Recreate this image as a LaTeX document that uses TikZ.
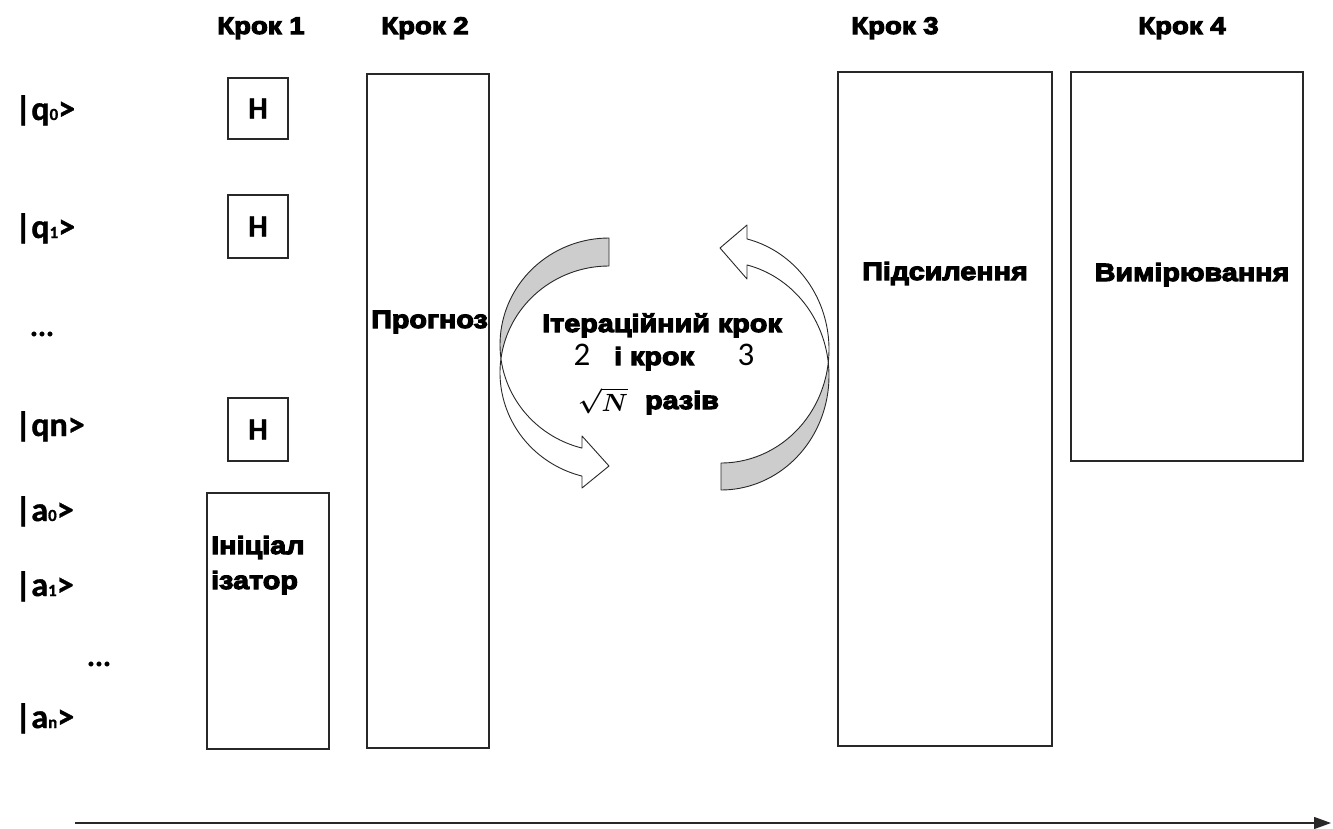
\documentclass[tikz,border=0pt]{standalone}
\usepackage{fontspec}
\usepackage{amsmath}
\usetikzlibrary{arrows.meta}
\newfontfamily\heavy[BoldFeatures={FakeBold=4.5},FakeStretch=1.15]{Liberation Sans}
\newfontfamily\cali[BoldFeatures={FakeBold=1}]{Carlito}
\definecolor{band}{RGB}{205,205,205}
\definecolor{edge}{RGB}{40,40,40}

\tikzset{
  box/.style 2 args={draw=edge, line width=1.3pt, minimum width=#1, minimum height=#2, inner sep=0pt},
  steplabel/.style={anchor=base, inner sep=0pt, font=\heavy\bfseries\fontsize{24}{24}\selectfont},
  boxtext/.style={inner sep=0pt, font=\heavy\bfseries\fontsize{25}{25}\selectfont},
  ket/.style={anchor=base west, inner sep=0pt, font=\cali\bfseries\fontsize{34}{34}\selectfont},
  gate/.style={inner sep=0pt, font=\cali\bfseries\fontsize{31}{31}\selectfont},
  dots/.style={inner sep=0pt, font=\cali\bfseries\fontsize{30}{30}\selectfont},
  ribbon/.style={draw=edge, line width=0.9pt, line join=round},
  digit/.style={anchor=base, inner sep=0pt, font=\cali\fontsize{33}{33}\selectfont},
}
\newcommand{\sub}[1]{{\fontsize{17}{17}\selectfont #1}}

\begin{document}
\begin{tikzpicture}[x=1pt, y=-1pt]
\useasboundingbox (0,0) rectangle (1333,828);

% step headings
\node[steplabel] (s1) at (261,34) {Крок 1};
\node[steplabel] (s2) at (425,34) {Крок 2};
\node[steplabel] (s3) at (895,34) {Крок 3};
\node[steplabel] (s4) at (1182,34) {Крок 4};

% register labels
\node[ket] (q0) at (15,120) {|q\sub{0}>};
\node[ket] (q1) at (15,238) {|q\sub{1}>};
\node[dots] (qd) at (42,334) {...};
\node[ket] (qn) at (15,436) {|qn>};
\node[ket] (a0) at (15,521) {|a\sub{0}>};
\node[ket] (a1) at (15,596) {|a\sub{1}>};
\node[dots] (ad) at (99,664) {...};
\node[ket] (an) at (15,728) {|a\sub{n}>};

% Hadamard gates
\node[box={60pt}{61pt}, gate] (h0) at (258,108.5) {H};
\node[box={60pt}{63pt}, gate] (h1) at (258,226.5) {H};
\node[box={60pt}{63pt}, gate] (hn) at (258,429.5) {H};

% blocks
\node[box={122pt}{256pt}] (init) at (268,621) {};
\node[box={122pt}{674pt}] (prog) at (428,411) {};
\node[box={214pt}{674pt}] (amp) at (945,409) {};
\node[box={232pt}{389pt}] (meas) at (1187,266.5) {};

\node[boxtext, anchor=base west] (initA) at (211,554) {Ініціал};
\node[boxtext, anchor=base west] (initB) at (211,589) {ізатор};
\node[boxtext, anchor=base west] (progT) at (371,328) {Прогноз};
\node[boxtext, anchor=base] (ampT) at (945,280) {Підсилення};
\node[boxtext, anchor=base] (measT) at (1192,281) {Вимірювання};

% iteration loop: left ribbon arrow
\draw[ribbon, fill=band]
  plot[domain=270:172.46, samples=40] ({609+109*cos(\x)}, {344.7+106.7*sin(\x)})
  -- plot[domain=187.54:270, samples=40] ({609+109*cos(\x)}, {372.7+106.7*sin(\x)})
  -- cycle;
\draw[ribbon, fill=white]
  plot[domain=187.54:104.34, samples=40] ({609+109*cos(\x)}, {372.7+106.7*sin(\x)})
  -- (582,488) -- (609,466) -- (582,436)
  -- plot[domain=104.34:172.46, samples=40] ({609+109*cos(\x)}, {344.7+106.7*sin(\x)})
  -- cycle;

% iteration loop: right ribbon arrow
\draw[ribbon, fill=band]
  plot[domain=90:-6.69, samples=40] ({721+108*cos(\x)}, {375.8+114.2*sin(\x)})
  -- plot[domain=6.67:90, samples=40] ({721+108*cos(\x)}, {349.3+113.7*sin(\x)})
  -- cycle;
\draw[ribbon, fill=white]
  plot[domain=6.67:-76.07, samples=40] ({721+108*cos(\x)}, {349.3+113.7*sin(\x)})
  -- (747,225) -- (720,248) -- (747,279)
  -- plot[domain=-76.07:-6.69, samples=40] ({721+108*cos(\x)}, {375.8+114.2*sin(\x)})
  -- cycle;

% loop caption
\node[boxtext, anchor=base] (it1) at (662,332) {Ітераційний крок};
\node[digit] (n2) at (582,365) {2};
\node[boxtext, anchor=base] (it2) at (654,365) {і крок};
\node[digit] (n3) at (746,365) {3};
\node[anchor=base, inner sep=0pt, text height=25pt, text depth=0pt, font=\fontsize{28}{28}\selectfont] (sq) at (603,411) {$\boldsymbol{\sqrt{N}}$};
\node[boxtext, anchor=base] (it3) at (682,409) {разів};

% time axis
\coordinate (t0) at (75,823);
\coordinate (t1) at (1331,823);
\draw[draw=edge, line width=1.3pt, -{Triangle[length=17pt, width=12pt]}] (t0) -- (t1);
\end{tikzpicture}
\end{document}
